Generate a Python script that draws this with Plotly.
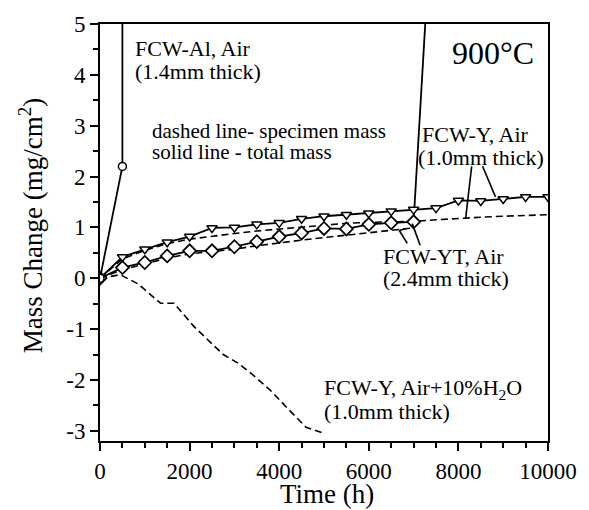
import plotly.graph_objects as go

# ---------------- data ----------------
time_air = [0, 500, 1000, 1500, 2000, 2500, 3000, 3500, 4000, 4500, 5000,
            5500, 6000, 6500, 7000, 7500, 8000, 8500, 9000, 9500, 10000]
fcw_y_total = [0, 0.42, 0.57, 0.71, 0.82, 0.99, 1.00, 1.06, 1.09, 1.17, 1.22,
               1.25, 1.28, 1.32, 1.35, 1.38, 1.53, 1.52, 1.56, 1.60, 1.60]
fcw_y_spec = [0, 0.38, 0.55, 0.68, 0.77, 0.83, 0.88, 0.93, 0.97, 1.01, 1.05,
              1.08, 1.10, 1.11, 1.12, 1.15, 1.18, 1.20, 1.22, 1.24, 1.25]

time_yt = [0, 500, 1000, 1500, 2000, 2500, 3000, 3500, 4000, 4500, 5000,
           5500, 6000, 6500, 7000]
fcw_yt_total = [0, 0.21, 0.31, 0.44, 0.54, 0.54, 0.62, 0.72, 0.82, 0.89, 0.98,
                0.97, 1.06, 1.09, 1.11]
fcw_yt_spec = [0, 0.17, 0.28, 0.40, 0.48, 0.52, 0.57, 0.64, 0.70, 0.75, 0.80,
               0.85, 0.90, 0.95, 0.99]
yt_break_time = [7000, 7300]
yt_break_mass = [1.11, 5.6]

time_al = [0, 500]
fcw_al_total = [0, 2.2]
al_break_time = [500, 500]
al_break_mass = [2.2, 5.6]

time_h2o = [0, 450, 850, 1350, 1650, 2100, 2750, 3100, 3400, 3800, 4200, 4600, 5000]
fcw_y_h2o_spec = [0, 0.07, -0.11, -0.49, -0.49, -0.95, -1.50, -1.68, -1.89,
                  -2.20, -2.57, -2.93, -3.05]

x_tickvals = [0, 2000, 4000, 6000, 8000, 10000]
x_ticktext = ["0", "2000", "4000", "6000", "8000", "10000"]
y_tickvals = [-3, -2, -1, 0, 1, 2, 3, 4, 5]
y_ticktext = ["-3", "-2", "-1", "0", "1", "2", "3", "4", "5"]

# ---------------- layout helpers (pixel -> data) ----------------
W, H = 589, 510
L, R, T, B = 100, 552, 19, 441
XMIN, XMAX, YMIN, YMAX = 0, 10000, -3.2, 5


def dx(px):
    return XMIN + (px - L) / (R - L) * (XMAX - XMIN)


def dy(py):
    return YMAX - (py - T) / (B - T) * (YMAX - YMIN)


FONT = "Liberation Serif, Times New Roman, serif"
DASH = "7px,4px"
LW = 1.8

fig = go.Figure()

# dashed specimen-mass lines
fig.add_trace(go.Scatter(x=time_air, y=fcw_y_spec, mode="lines",
                         line=dict(color="black", width=1.6, dash=DASH)))
fig.add_trace(go.Scatter(x=time_yt, y=fcw_yt_spec, mode="lines",
                         line=dict(color="black", width=1.6, dash=DASH)))
fig.add_trace(go.Scatter(x=time_h2o, y=fcw_y_h2o_spec, mode="lines",
                         line=dict(color="black", width=1.6, dash=DASH)))

# breakaway lines
fig.add_trace(go.Scatter(x=yt_break_time, y=yt_break_mass, mode="lines",
                         line=dict(color="black", width=LW)))
fig.add_trace(go.Scatter(x=al_break_time, y=al_break_mass, mode="lines",
                         line=dict(color="black", width=LW)))

# solid total-mass lines with markers
fig.add_trace(go.Scatter(x=time_air, y=fcw_y_total, mode="lines+markers",
                         line=dict(color="black", width=LW),
                         marker=dict(symbol="triangle-down", size=9, color="white",
                                     line=dict(color="black", width=1.5))))
fig.add_trace(go.Scatter(x=time_yt, y=fcw_yt_total, mode="lines+markers",
                         line=dict(color="black", width=LW),
                         marker=dict(symbol="diamond", size=10, color="white",
                                     line=dict(color="black", width=1.7))))
fig.add_trace(go.Scatter(x=time_al, y=fcw_al_total, mode="lines+markers",
                         line=dict(color="black", width=LW),
                         marker=dict(symbol="circle", size=8, color="white",
                                     line=dict(color="black", width=1.5))))

# pointer lines
pointers = [
    ((475, 163), (469, 215)),
    ((486, 163), (499, 194)),
    ((410, 241), (402, 228)),
    ((402, 228), (409, 226)),
    ((423, 243), (415, 221)),
]
for (x0, y0), (x1, y1) in pointers:
    fig.add_shape(type="line", xref="x", yref="y",
                  x0=dx(x0), y0=dy(y0), x1=dx(x1), y1=dy(y1),
                  line=dict(color="black", width=1.6))

# text annotations (pixel positions -> data)
texts = [
    ("FCW-Al, Air", 133, 44, 22),
    ("(1.4mm thick)", 133, 67, 22),
    ("dashed line- specimen mass", 150, 127, 21),
    ("solid line - total mass", 150, 149, 21),
    ("FCW-Y, Air", 423, 131, 22),
    ("(1.0mm thick)", 419, 154, 22),
    ("FCW-YT, Air", 383, 254, 22),
    ("(2.4mm thick)", 383, 277, 22),
    ("FCW-Y, Air+10%H<sub>2</sub>O", 324, 388, 22),
    ("(1.0mm thick)", 324, 411, 22),
]
for txt, px, py, fs in texts:
    fig.add_annotation(x=dx(px), y=dy(py), xref="x", yref="y", text=txt,
                       showarrow=False, xanchor="left", yanchor="middle",
                       font=dict(family=FONT, size=fs, color="black"))

fig.add_annotation(x=dx(497), y=dy(48), xref="x", yref="y", text="900°C",
                   showarrow=False, xanchor="center", yanchor="middle",
                   font=dict(family=FONT, size=32, color="black"))

# axis titles
fig.add_annotation(x=(329 - L) / (R - L), y=(B - 495) / (B - T), xref="paper", yref="paper",
                   text="Time (h)", showarrow=False, xanchor="center", yanchor="middle",
                   font=dict(family=FONT, size=27, color="black"))
fig.add_annotation(x=(30 - L) / (R - L), y=(B - 223) / (B - T), xref="paper", yref="paper",
                   text="Mass Change (mg/cm<sup>2</sup>)", textangle=-90,
                   showarrow=False, xanchor="center", yanchor="middle",
                   font=dict(family=FONT, size=27, color="black"))

axis_common = dict(showgrid=False, zeroline=False, showline=True, linecolor="black",
                   linewidth=2, mirror=True, ticks="outside", tickcolor="black",
                   tickwidth=1.8, ticklen=8,
                   tickfont=dict(family=FONT, size=23, color="black"))

fig.update_xaxes(range=[XMIN, XMAX], tickvals=x_tickvals, ticktext=x_ticktext,
                 minor=dict(dtick=500, ticks="outside", ticklen=5, tickwidth=1.5,
                            tickcolor="black"),
                 **axis_common)
fig.update_yaxes(range=[YMIN, YMAX], tickvals=y_tickvals, ticktext=y_ticktext,
                 minor=dict(dtick=0.5, tick0=0, ticks="outside", ticklen=5, tickwidth=1.5,
                            tickcolor="black"),
                 **axis_common)

fig.update_layout(width=W, height=H, showlegend=False,
                  plot_bgcolor="white", paper_bgcolor="white",
                  margin=dict(l=L, r=W - R, t=T, b=H - B),
                  font=dict(family=FONT, color="black"))

fig.write_html("out.html", config={"displayModeBar": False},
               post_script="document.body.style.margin='0';document.body.style.padding='0';"
                           "document.documentElement.style.overflow='hidden';")
